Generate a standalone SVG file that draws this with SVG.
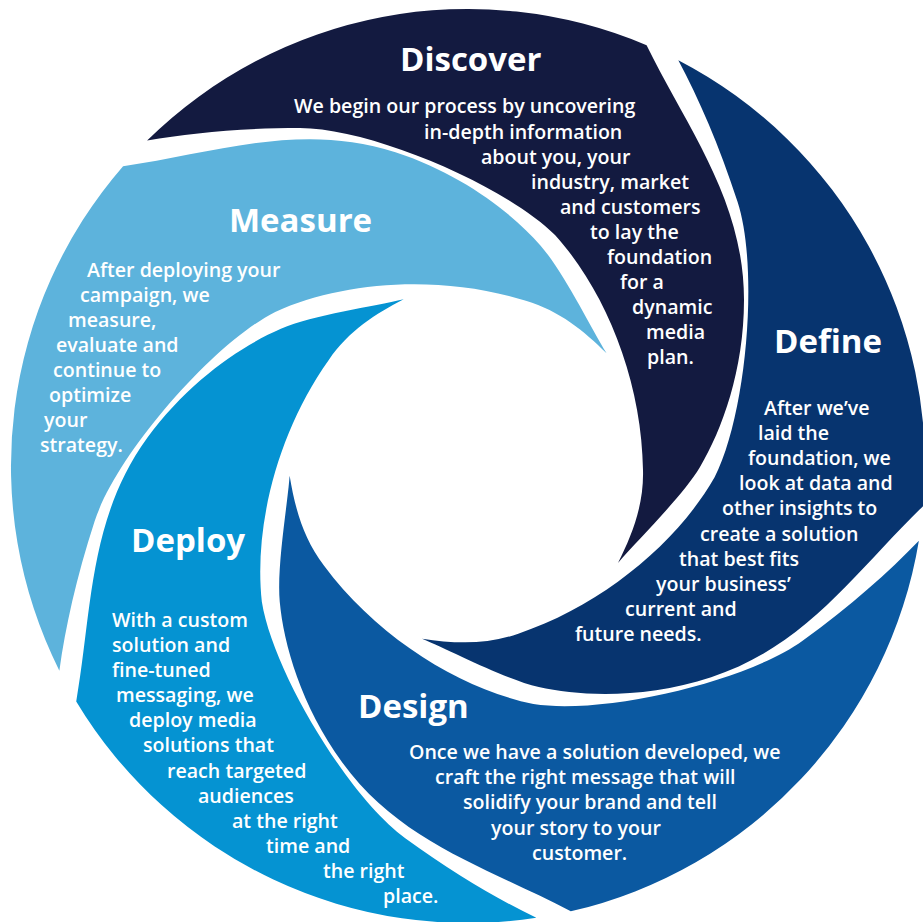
<svg xmlns="http://www.w3.org/2000/svg" width="923" height="922" viewBox="0 0 923 922">
<style>
.title{font-family:"Open Sans","Liberation Sans",sans-serif;font-weight:700;font-size:33px;fill:#fff}
.body{font-family:"Open Sans","Liberation Sans",sans-serif;font-weight:600;font-size:19.6px;fill:#fff}
</style>
<defs>
<path id="blade" d="M147.1,140.6 A457,457 0 0 1 646.6,45.3 C687,128 744,200 744,300 C744,370 722,430 700,467 C682,497 637.5,540 618,563 C632,535 644,505 643,470 C642,380 605,290 555,235 C505,185 370,128 300,128 C240,128 190,133 147.1,140.6 Z"/>
</defs>
<rect width="923" height="922" fill="#fff"/>
<g id="discover">
<use href="#blade" fill="#131a40"/>
<text class="title" x="400" y="71">Discover</text>
<text class="body"><tspan x="294" y="113">We begin our process by uncovering</tspan><tspan x="424" y="139">in-depth information</tspan><tspan x="481" y="164">about you, your</tspan><tspan x="531" y="189">industry, market</tspan><tspan x="560" y="214">and customers</tspan><tspan x="590" y="239">to lay the</tspan><tspan x="607" y="264">foundation</tspan><tspan x="620" y="289">for a</tspan><tspan x="632" y="314">dynamic</tspan><tspan x="646" y="339">media</tspan><tspan x="647" y="364">plan.</tspan></text>
</g>
<g id="define">
<use href="#blade" transform="rotate(72 468 466)" fill="#07346f"/>
<text class="title" x="774" y="353">Define</text>
<text class="body"><tspan x="764" y="415">After we’ve</tspan><tspan x="758" y="440">laid the</tspan><tspan x="748" y="465">foundation, we</tspan><tspan x="739" y="490">look at data and</tspan><tspan x="722" y="515">other insights to</tspan><tspan x="700" y="541">create a solution</tspan><tspan x="679" y="566">that best fits</tspan><tspan x="656" y="591">your business’</tspan><tspan x="625" y="616">current and</tspan><tspan x="575" y="641">future needs.</tspan></text>
</g>
<g id="design">
<use href="#blade" transform="rotate(144 468 466)" fill="#0b59a1"/>
<text class="title" x="358" y="718">Design</text>
<text class="body"><tspan x="409" y="759">Once we have a solution developed, we</tspan><tspan x="435" y="784">craft the right message that will</tspan><tspan x="463" y="809">solidify your brand and tell</tspan><tspan x="491" y="835">your story to your</tspan><tspan x="532" y="860">customer.</tspan></text>
</g>
<g id="deploy">
<use href="#blade" transform="rotate(216 468 466)" fill="#0593d2"/>
<text class="title" x="131" y="552">Deploy</text>
<text class="body"><tspan x="112" y="627">With a custom</tspan><tspan x="112" y="652">solution and</tspan><tspan x="112" y="677">fine-tuned</tspan><tspan x="116" y="702">messaging, we</tspan><tspan x="129" y="727">deploy media</tspan><tspan x="143" y="752">solutions that</tspan><tspan x="167" y="778">reach targeted</tspan><tspan x="198" y="803">audiences</tspan><tspan x="232" y="828">at the right</tspan><tspan x="266" y="853">time and</tspan><tspan x="323" y="878">the right</tspan><tspan x="383" y="903">place.</tspan></text>
</g>
<g id="measure">
<use href="#blade" transform="rotate(288 468 466)" fill="#5db3dc"/>
<text class="title" x="229" y="232">Measure</text>
<text class="body"><tspan x="87" y="277">After deploying your</tspan><tspan x="80" y="302">campaign, we</tspan><tspan x="68" y="327">measure,</tspan><tspan x="56" y="352">evaluate and</tspan><tspan x="53" y="377">continue to</tspan><tspan x="49" y="402">optimize</tspan><tspan x="44" y="427">your</tspan><tspan x="40" y="452">strategy.</tspan></text>
</g>
</svg>
